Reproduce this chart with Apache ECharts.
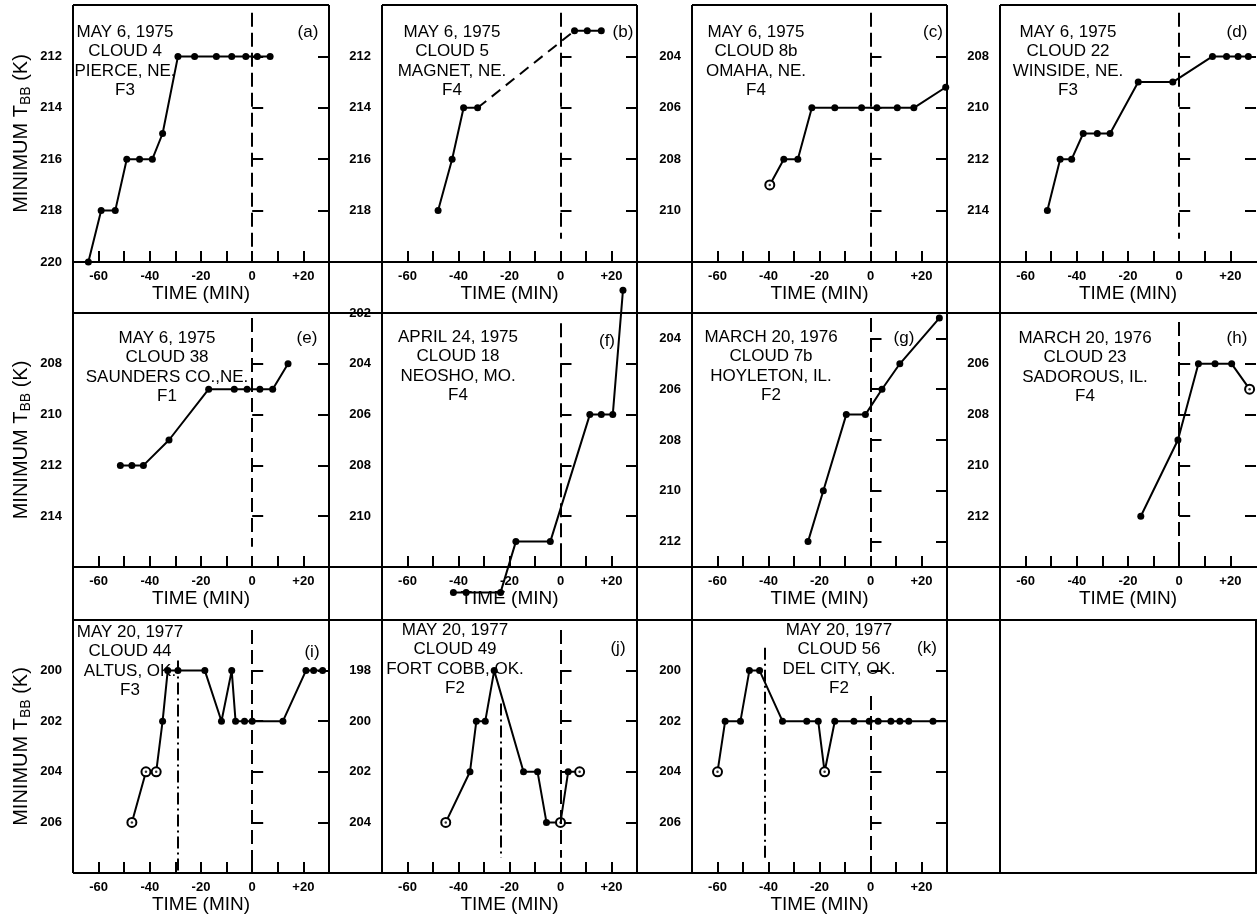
<!DOCTYPE html>
<html><head><meta charset="utf-8">
<script src="https://cdn.jsdelivr.net/npm/echarts@6/dist/echarts.min.js"></script>
<style>html,body{margin:0;padding:0;background:#fff}#c{width:1257px;height:918px}</style>
</head><body><div id="c"></div>
<script>
// ---- tick labels ----
const xTickLabels = [-60, -40, -20, 0, 20];
const xTickMarks = [-60, -50, -40, -30, -20, -10, 0, 10, 20];

// ---- data (time in min, minimum TBB in K) ----
const timeA = [-64, -59, -53.5, -49, -44, -39, -35, -29, -22.5, -14, -8, -2.5, 2, 7];
const tbbA  = [220, 218, 218, 216, 216, 216, 215, 212, 212, 212, 212, 212, 212, 212];

const timeB1 = [-48, -42.5, -38, -32.5];
const tbbB1  = [218, 216, 214, 214];
const timeB2 = [5.5, 10.5, 16];
const tbbB2  = [211, 211, 211];

const timeC = [-39.5, -34, -28.5, -23, -14, -3.5, 2.5, 10.5, 17, 29.5];
const tbbC  = [209, 208, 208, 206, 206, 206, 206, 206, 206, 205.2];
const hollowC = [-39.5];

const timeD = [-51.5, -46.5, -42, -37.5, -32, -27, -16, -2.5, 13, 18.5, 23, 27];
const tbbD  = [214, 212, 212, 211, 211, 211, 209, 209, 208, 208, 208, 208];

const timeE = [-51.5, -47, -42.5, -32.5, -17, -7, -2, 3, 8, 14];
const tbbE  = [212, 212, 212, 211, 209, 209, 209, 209, 209, 208];

const timeF = [-42, -37, -23.5, -17.5, -4, 11.5, 16, 20.5, 24.5];
const tbbF  = [213, 213, 213, 211, 211, 206, 206, 206, 201.1];

const timeG = [-24.5, -18.5, -9.5, -2, 4.5, 11.5, 27];
const tbbG  = [212, 210, 207, 207, 206, 205, 203.2];

const timeH = [-15, -0.5, 7.5, 14, 20.5, 27.5];
const tbbH  = [212, 209, 206, 206, 206, 207];
const hollowH = [27.5];

const timeI = [-47, -41.5, -37.5, -35, -33, -29, -18.5, -12, -8, -6.5, -3, 0, 12, 21, 24, 27.5];
const tbbI  = [206, 204, 204, 202, 200, 200, 200, 202, 200, 202, 202, 202, 202, 200, 200, 200];
const hollowI = [-47, -41.5, -37.5];

const timeJ = [-45, -35.5, -33, -29.5, -26, -14.5, -9, -5.5, 0, 3, 7.5];
const tbbJ  = [204, 202, 200, 200, 198, 202, 202, 204, 204, 202, 202];
const hollowJ = [-45, 0, 7.5];

const timeK = [-60, -57, -51, -47.5, -43.5, -34.5, -25, -20.5, -18, -14, -6.5, -0.5, 3, 8, 11.5, 15, 24.5, 30];
const tbbK  = [204, 202, 202, 200, 200, 202, 202, 202, 204, 202, 202, 202, 202, 202, 202, 202, 202, 202];
const hollowK = [-60, -18];
const bareK = [30];

// dash-dot reference times (i, j, k)
const refI = -29, refJ = -23.5, refK = -41.5;

// ---- layout ----
const colX = [73, 382, 692, 1000], colW = [256, 255, 255, 256];
const rowY = [5, 313, 620], rowH = [257, 254, 253];
const FONT = '"Liberation Sans", Arial, Helvetica, sans-serif';
const NARROW = '"Liberation Sans Narrow", "Liberation Sans", Arial, sans-serif';

const panels = [
  {lab:'(a)', r:0, c:0, yMin:210, yMax:220, yTicks:[212,214,216,218,220], t:timeA, v:tbbA,
   txt:['MAY 6, 1975','CLOUD 4','PIERCE, NE.','F3'], tx:52, ty:27, lx:235, ly:27, zero:[210.3,220]},
  {lab:'(b)', r:0, c:1, yMin:210, yMax:220, yTicks:[212,214,216,218], t:timeB1, v:tbbB1,
   txt:['MAY 6, 1975','CLOUD 5','MAGNET, NE.','F4'], tx:70, ty:27, lx:241, ly:27, zero:[210.3,219.1]},
  {lab:'(c)', r:0, c:2, yMin:202, yMax:212, yTicks:[204,206,208,210], t:timeC, v:tbbC, hollow:hollowC,
   txt:['MAY 6, 1975','CLOUD 8b','OMAHA, NE.','F4'], tx:64, ty:27, lx:241, ly:27, zero:[202.3,212]},
  {lab:'(d)', r:0, c:3, yMin:206, yMax:216, yTicks:[208,210,212,214], t:timeD, v:tbbD,
   txt:['MAY 6, 1975','CLOUD 22','WINSIDE, NE.','F3'], tx:68, ty:27, lx:237, ly:27, zero:[206.3,215.1]},
  {lab:'(e)', r:1, c:0, yMin:206, yMax:216, yTicks:[208,210,212,214], t:timeE, v:tbbE,
   txt:['MAY 6, 1975','CLOUD 38','SAUNDERS CO.,NE.','F1'], tx:94, ty:25, lx:234, ly:25, zero:[206.2,215.2]},
  {lab:'(f)', r:1, c:1, yMin:202, yMax:212, yTicks:[202,204,206,208,210], t:timeF, v:tbbF,
   txt:['APRIL 24, 1975','CLOUD 18','NEOSHO, MO.','F4'], tx:76, ty:24, lx:225, ly:28, zero:[202.4,212]},
  {lab:'(g)', r:1, c:2, yMin:203, yMax:213, yTicks:[204,206,208,210,212], t:timeG, v:tbbG,
   txt:['MARCH 20, 1976','CLOUD 7b','HOYLETON, IL.','F2'], tx:79, ty:24, lx:212, ly:25, zero:[203.2,213]},
  {lab:'(h)', r:1, c:3, yMin:204, yMax:214, yTicks:[206,208,210,212], t:timeH, v:tbbH, hollow:hollowH,
   txt:['MARCH 20, 1976','CLOUD 23','SADOROUS, IL.','F4'], tx:85, ty:25, lx:237, ly:25, zero:[204.35,214]},
  {lab:'(i)', r:2, c:0, yMin:198, yMax:208, yTicks:[200,202,204,206], t:timeI, v:tbbI, hollow:hollowI,
   txt:['MAY 20, 1977','CLOUD 44','ALTUS, OK.','F3'], tx:57, ty:12, lx:239, ly:32, zero:[198.4,207.8],
   ref:[refI,199.6,208]},
  {lab:'(j)', r:2, c:1, yMin:196, yMax:206, yTicks:[198,200,202,204], t:timeJ, v:tbbJ, hollow:hollowJ,
   txt:['MAY 20, 1977','CLOUD 49','FORT COBB, OK.','F2'], tx:73, ty:10, lx:236, ly:28, zero:[196.4,205.4],
   ref:[refJ,199.3,205.4]},
  {lab:'(k)', r:2, c:2, yMin:198, yMax:208, yTicks:[200,202,204,206], t:timeK, v:tbbK, hollow:hollowK, bare:bareK,
   txt:['MAY 20, 1977','CLOUD 56','DEL CITY, OK.','F2'], tx:147, ty:10, lx:235, ly:28, zero:[201.0,208],
   ref:[refK,199.1,207.4]}
];

const grid = [], xAxis = [], yAxis = [], series = [], graphic = [];
const tickStyle = {color:'#000', width:2};

panels.forEach((p, i) => {
  const L = colX[p.c], T = rowY[p.r];
  grid.push({left:L, top:T, width:colW[p.c], height:rowH[p.r], show:false});
  xAxis.push({
    type:'value', gridIndex:i, min:-70, max:30, interval:10,
    axisLine:{show:false}, splitLine:{show:false},
    axisTick:{inside:true, length:11, lineStyle:tickStyle, customValues:xTickMarks},
    axisLabel:{customValues:xTickLabels, formatter:v => v > 0 ? '+' + v : String(v),
      color:'#000', fontFamily:NARROW, fontWeight:'bold', fontSize:13, margin:8},
    name:'TIME (MIN)', nameLocation:'middle', nameGap:21,
    nameTextStyle:{color:'#000', fontFamily:FONT, fontSize:19}
  });
  const yBase = {type:'value', gridIndex:i, min:p.yMin, max:p.yMax, inverse:true,
    axisLine:{show:false}, splitLine:{show:false}};
  yAxis.push(Object.assign({}, yBase, {position:'left',
    axisTick:{inside:true, length:11, lineStyle:tickStyle, customValues:p.yTicks},
    axisLabel:{customValues:p.yTicks, color:'#000', fontFamily:NARROW, fontWeight:'bold', fontSize:13, margin:11}}));
  yAxis.push(Object.assign({}, yBase, {position:'right',
    axisTick:{inside:true, length:11, lineStyle:tickStyle, customValues:p.yTicks},
    axisLabel:{show:false}}));

  const hollow = p.hollow || [], bare = p.bare || [];
  const data = p.t.map((t, k) => {
    const item = {value:[t, p.v[k]]};
    if (hollow.includes(t)) {
      item.symbol = 'emptyCircle'; item.symbolSize = 9;
      item.itemStyle = {color:'#000', borderColor:'#000', borderWidth:1.5};
    }
    if (bare.includes(t)) { item.symbol = 'none'; }
    return item;
  });
  const ml = [[{coord:[0, p.zero[0]]}, {coord:[0, p.zero[1]]}]];
  if (p.ref) ml.push([{coord:[p.ref[0], p.ref[1]], lineStyle:{type:[12,4,2,4], color:'#000', width:2}},
                      {coord:[p.ref[0], p.ref[2]]}]);
  series.push({
    type:'line', xAxisIndex:i, yAxisIndex:2*i, data, clip:false,
    symbol:'circle', symbolSize:7, showSymbol:true,
    itemStyle:{color:'#000'}, lineStyle:{color:'#000', width:2},
    markLine:{silent:true, symbol:['none','none'], label:{show:false},
      lineStyle:{type:[14,6], color:'#000', width:2}, data:ml}
  });
  if (hollow.length) {
    // centre dots of the open (circled) points
    series.push({type:'scatter', xAxisIndex:i, yAxisIndex:2*i, symbol:'circle', symbolSize:2.5,
      clip:false, z:5, itemStyle:{color:'#000'},
      data:p.t.map((t, k) => [t, p.v[k]]).filter(d => hollow.includes(d[0]))});
  }

  graphic.push({type:'text', x:L + p.tx, y:T + p.ty - 9.5, silent:true,
    style:{text:p.txt.join('\n'), fill:'#000', fontFamily:FONT, fontSize:17, lineHeight:19.5,
      align:'center', textAlign:'center', verticalAlign:'top', textVerticalAlign:'top'}});
  graphic.push({type:'text', x:L + p.lx, y:T + p.ly, silent:true,
    style:{text:p.lab, fill:'#000', fontFamily:FONT, fontSize:17,
      align:'center', textAlign:'center', verticalAlign:'middle', textVerticalAlign:'middle'}});
});

// panel (b): dashed connector and final cluster
series.push({type:'line', xAxisIndex:1, yAxisIndex:2, symbol:'none', clip:false,
  lineStyle:{color:'#000', width:2, type:[11,7]},
  data:[[timeB1[timeB1.length-1], tbbB1[tbbB1.length-1]], [timeB2[0], tbbB2[0]]]});
series.push({type:'line', xAxisIndex:1, yAxisIndex:2, symbol:'circle', symbolSize:7, clip:false,
  itemStyle:{color:'#000'}, lineStyle:{color:'#000', width:2},
  data:timeB2.map((t, k) => [t, tbbB2[k]])});

// y-axis titles
rowY.forEach((y, r) => {
  graphic.push({type:'text', x:21, y:y + rowH[r] / 2, rotation:Math.PI / 2, silent:true,
    style:{text:'{m|MINIMUM T}{s|BB}{m| (K)}', align:'center', textAlign:'center',
      verticalAlign:'middle', textVerticalAlign:'middle',
      rich:{m:{fontSize:20, fontFamily:FONT, fill:'#000', color:'#000'},
            s:{fontSize:14, fontFamily:FONT, fill:'#000', color:'#000', padding:[10,0,0,0]}}}});
});

// table frame
const ln = (x1, y1, x2, y2) => graphic.push({type:'line', silent:true,
  shape:{x1, y1, x2, y2}, style:{stroke:'#000', lineWidth:2}});
colX.forEach((x, c) => ln(x, rowY[0], x + colW[c], rowY[0]));
[262, 313, 567, 620, 873].forEach(y => ln(73, y, 1257, y));
[73, 329, 382, 637, 692, 947, 1000].forEach(x => ln(x, 5, x, 873));
ln(1256, 620, 1256, 873);

const chart = echarts.init(document.getElementById('c'), null, {renderer:'canvas'});
chart.setOption({animation:false, backgroundColor:'#fff', grid, xAxis, yAxis, series, graphic});
</script>
</body></html>
